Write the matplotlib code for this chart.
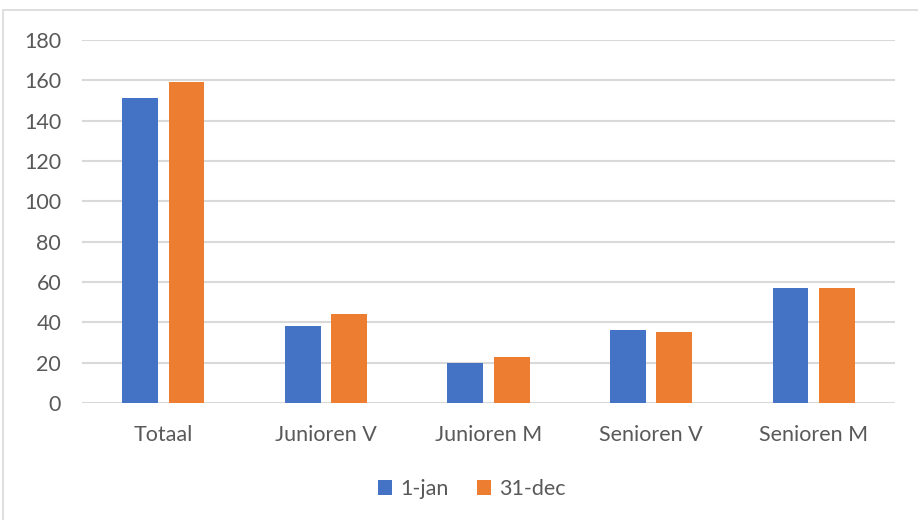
import numpy as np
import matplotlib.pyplot as plt
from matplotlib.patches import Rectangle

categories = ["Totaal", "Junioren V", "Junioren M", "Senioren V", "Senioren M"]
jan = [151, 38, 20, 36, 57]
dec = [159, 44, 23, 35, 57]
series_names = ["1-jan", "31-dec"]

plt.rcParams['font.family'] = ['Lato', 'DejaVu Sans']

fig = plt.figure(figsize=(9.18, 5.2), dpi=100)
ax = fig.add_axes([82 / 918, 1 - 403 / 520, (895 - 82) / 918, (403 - 40) / 520])

x = np.arange(len(categories))
w = 0.22
ax.bar(x - 0.143, jan, w, color="#4472c4", label=series_names[0], zorder=3)
ax.bar(x + 0.143, dec, w, color="#ed7d31", label=series_names[1], zorder=3)

ax.set_xlim(-0.5, len(categories) - 0.5)
ax.set_ylim(0, 180)
ax.set_yticks(range(0, 181, 20))
ax.set_xticks(x)
ax.set_xticklabels(categories)
ax.yaxis.grid(True, color="#d9d9d9", linewidth=1.5, zorder=0)
for s in ["top", "right", "left", "bottom"]:
    ax.spines[s].set_visible(False)
ax.tick_params(axis="both", length=0, labelsize=15.5, colors="#595959")
ax.tick_params(axis="y", pad=15)
ax.tick_params(axis="x", pad=16)

fig.legend(loc="center", bbox_to_anchor=(472 / 918, 1 - 489 / 520), ncol=2,
           frameon=False, fontsize=15.5, handlelength=0.65, handleheight=0.65,
           columnspacing=1.3, handletextpad=0.4, labelcolor="#595959")

fig.patches.append(Rectangle((3 / 918, -0.01), 1.0, 1 - 10 / 520 + 0.01,
                             transform=fig.transFigure, fill=False,
                             edgecolor="#d9d9d9", linewidth=1.2))

fig.savefig("out.png", dpi=100, facecolor="white")
